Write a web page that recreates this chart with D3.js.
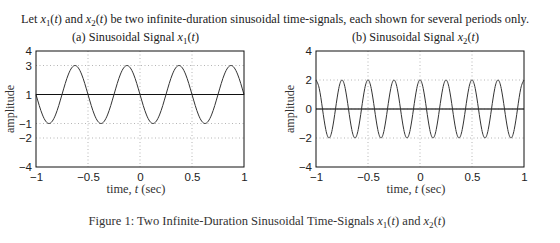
<!DOCTYPE html>
<html>
<head>
<meta charset="utf-8">
<script src="https://cdn.jsdelivr.net/npm/d3@7"></script>
<style>
  body { margin: 0; background: #fff; }
</style>
</head>
<body>
<div id="chart"></div>
<script>
// sample times (sec) and values
const t1 = [-1, -0.9375, -0.875, -0.8125, -0.75, -0.6875, -0.625, -0.5625, -0.5, -0.4375, -0.375,
  -0.3125, -0.25, -0.1875, -0.125, -0.0625, 0, 0.0625, 0.125, 0.1875, 0.25, 0.3125, 0.375,
  0.4375, 0.5, 0.5625, 0.625, 0.6875, 0.75, 0.8125, 0.875, 0.9375, 1];
const x1 = [1, -0.41, -1, -0.41, 1, 2.41, 3, 2.41,
  1, -0.41, -1, -0.41, 1, 2.41, 3, 2.41,
  1, -0.41, -1, -0.41, 1, 2.41, 3, 2.41,
  1, -0.41, -1, -0.41, 1, 2.41, 3, 2.41, 1];

const t2 = [-1, -0.96875, -0.9375, -0.90625, -0.875, -0.84375, -0.8125, -0.78125,
  -0.75, -0.71875, -0.6875, -0.65625, -0.625, -0.59375, -0.5625, -0.53125,
  -0.5, -0.46875, -0.4375, -0.40625, -0.375, -0.34375, -0.3125, -0.28125,
  -0.25, -0.21875, -0.1875, -0.15625, -0.125, -0.09375, -0.0625, -0.03125,
  0, 0.03125, 0.0625, 0.09375, 0.125, 0.15625, 0.1875, 0.21875,
  0.25, 0.28125, 0.3125, 0.34375, 0.375, 0.40625, 0.4375, 0.46875,
  0.5, 0.53125, 0.5625, 0.59375, 0.625, 0.65625, 0.6875, 0.71875,
  0.75, 0.78125, 0.8125, 0.84375, 0.875, 0.90625, 0.9375, 0.96875, 1];
const x2 = [2, 1.41, 0, -1.41, -2, -1.41, 0, 1.41,
  2, 1.41, 0, -1.41, -2, -1.41, 0, 1.41,
  2, 1.41, 0, -1.41, -2, -1.41, 0, 1.41,
  2, 1.41, 0, -1.41, -2, -1.41, 0, 1.41,
  2, 1.41, 0, -1.41, -2, -1.41, 0, 1.41,
  2, 1.41, 0, -1.41, -2, -1.41, 0, 1.41,
  2, 1.41, 0, -1.41, -2, -1.41, 0, 1.41,
  2, 1.41, 0, -1.41, -2, -1.41, 0, 1.41, 2];

const xTicks = [-1, -0.5, 0, 0.5, 1];
const yTicks1 = [-4, -2, -1, 1, 3, 4];
const yTicks2 = [-4, -2, 0, 2, 4];
const mean1 = 1;
const mean2 = 0;

const width = 560, height = 243;
const serif = "'Liberation Serif', 'DejaVu Serif', serif";
const sans = "'Liberation Sans', Arial, sans-serif";

const svg = d3.select("#chart").append("svg")
  .attr("width", width)
  .attr("height", height);

// text with italic letters and subscripts, stretched to the measured width
function mathText(sel, parts, len) {
  let shifted = false;
  parts.forEach(([s, kind]) => {
    const ts = sel.append("tspan").text(s);
    if (kind === "sub") {
      ts.attr("font-size", "0.72em").attr("dy", 2.5);
      shifted = true;
    } else {
      if (shifted) { ts.attr("dy", -2.5); shifted = false; }
      if (kind === "i") ts.attr("font-style", "italic");
    }
  });
  if (len) sel.attr("textLength", len).attr("lengthAdjust", "spacingAndGlyphs");
  return sel;
}

function drawPanel(p) {
  const x = d3.scaleLinear().domain([-1, 1]).range([p.left, p.left + 208]);
  const y = d3.scaleLinear().domain([-4, 4]).range([167, 51]);
  const g = svg.append("g");

  // dotted grid
  g.selectAll(".vgrid")
    .data(xTicks.filter(d => d > -1 && d < 1))
    .enter().append("line")
    .attr("x1", d => x(d)).attr("x2", d => x(d))
    .attr("y1", y(4)).attr("y2", y(-4))
    .attr("stroke", "#b5b5b5").attr("stroke-dasharray", "1,2.5");
  g.selectAll(".hgrid")
    .data(p.yTicks.filter(d => d > -4 && d < 4))
    .enter().append("line")
    .attr("x1", x(-1)).attr("x2", x(1))
    .attr("y1", d => y(d)).attr("y2", d => y(d))
    .attr("stroke", "#b5b5b5").attr("stroke-dasharray", "1,2.5");

  // mean level
  g.append("line")
    .attr("x1", x(-1)).attr("x2", x(1))
    .attr("y1", y(p.mean)).attr("y2", y(p.mean))
    .attr("stroke", p.meanColor).attr("stroke-width", p.meanWidth);

  // signal
  const pts = p.t.map((d, i) => [d, p.v[i]]);
  g.append("path")
    .datum(pts)
    .attr("fill", "none")
    .attr("stroke", "#333")
    .attr("stroke-width", 1)
    .attr("d", d3.line().x(d => x(d[0])).y(d => y(d[1])).curve(d3.curveNatural));

  // box
  g.append("rect")
    .attr("x", x(-1)).attr("y", y(4))
    .attr("width", x(1) - x(-1)).attr("height", y(-4) - y(4))
    .attr("fill", "none").attr("stroke", "#111");

  // axes
  const ax = g.append("g")
    .attr("transform", `translate(0,${y(-4)})`)
    .call(d3.axisBottom(x).tickValues(xTicks).tickSize(0).tickPadding(6)
      .tickFormat(d => d3.format("")(d)));
  const ay = g.append("g")
    .attr("transform", `translate(${x(-1)},0)`)
    .call(d3.axisLeft(y).tickValues(p.yTicks).tickSize(0).tickPadding(4));
  [ax, ay].forEach(a => {
    a.select(".domain").remove();
    a.attr("font-family", sans).attr("font-size", 11.5);
    a.selectAll("text").attr("fill", "#222");
  });

  // labels
  g.append("text")
    .attr("transform", `translate(${p.left - 22},${(y(4) + y(-4)) / 2}) rotate(-90)`)
    .attr("text-anchor", "middle")
    .attr("font-family", serif).attr("font-size", 12).attr("fill", "#333")
    .text("amplitude");
  mathText(g.append("text")
    .attr("x", p.left + 100).attr("y", 193)
    .attr("text-anchor", "middle")
    .attr("font-family", serif).attr("font-size", 11.5).attr("fill", "#333"),
    [["time, ", ""], ["t", "i"], [" (sec)", ""]], 59);
  mathText(g.append("text")
    .attr("x", p.left + 99.5).attr("y", 41)
    .attr("text-anchor", "middle")
    .attr("font-family", serif).attr("font-size", 12).attr("fill", "#222"),
    [[p.title, ""], ["x", "i"], [p.sub, "sub"], ["(", ""], ["t", "i"], [")", ""]], 127);
}

drawPanel({ left: 36, t: t1, v: x1, yTicks: yTicks1, mean: mean1, meanColor: "#111", meanWidth: 1,
  title: "(a) Sinusoidal Signal ", sub: "1" });
drawPanel({ left: 316, t: t2, v: x2, yTicks: yTicks2, mean: mean2, meanColor: "#444", meanWidth: 1.6,
  title: "(b) Sinusoidal Signal ", sub: "2" });

// header line
mathText(svg.append("text")
  .attr("x", 275).attr("y", 23)
  .attr("text-anchor", "middle")
  .attr("font-family", serif).attr("font-size", 12).attr("fill", "#222"),
  [["Let ", ""], ["x", "i"], ["1", "sub"], ["(", ""], ["t", "i"], [") and ", ""], ["x", "i"], ["2", "sub"],
   ["(", ""], ["t", "i"], [") be two infinite-duration sinusoidal time-signals, each shown for several periods only.", ""]], 508);

// caption
mathText(svg.append("text")
  .attr("x", 267).attr("y", 225)
  .attr("text-anchor", "middle")
  .attr("font-family", serif).attr("font-size", 12).attr("fill", "#333"),
  [["Figure 1:  Two Infinite-Duration Sinusoidal Time-Signals ", ""], ["x", "i"], ["1", "sub"], ["(", ""], ["t", "i"],
   [") and ", ""], ["x", "i"], ["2", "sub"], ["(", ""], ["t", "i"], [")", ""]], 357);
</script>
</body>
</html>
